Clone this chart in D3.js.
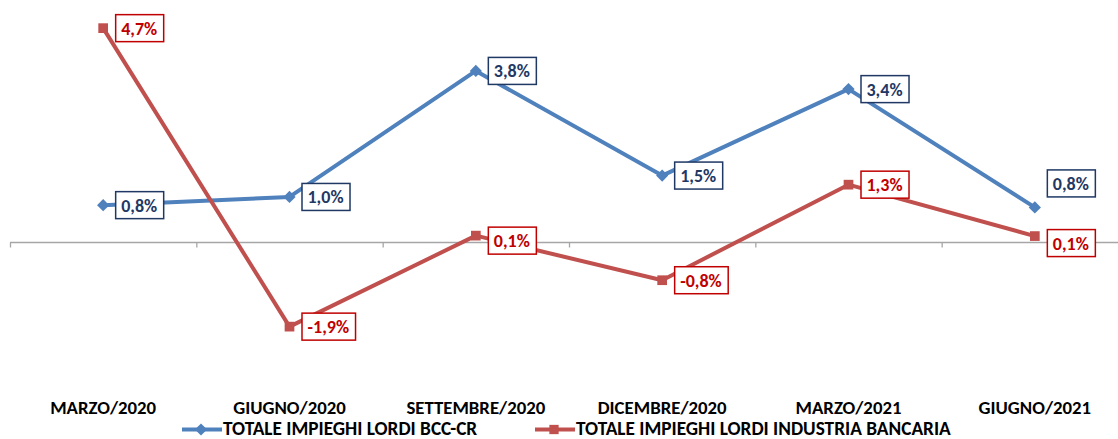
<!DOCTYPE html>
<html lang="it">
<head>
<meta charset="UTF-8" />
<title>Impieghi lordi</title>
<script src="https://cdn.jsdelivr.net/npm/d3@7"></script>
<style>
body{margin:0;background:#fff}
svg{display:block}
text{font-family:Carlito,Lato,"Open Sans",sans-serif;font-weight:700}
</style>
</head>
<body>
<svg id="chart" width="1118" height="439"></svg>
<script>
/* ===== data ===== */
const categories=['MARZO/2020','GIUGNO/2020','SETTEMBRE/2020','DICEMBRE/2020','MARZO/2021','GIUGNO/2021'];
const bccValues=[0.81,0.99,3.76,1.46,3.36,0.76];
const bancarioValues=[4.70,-1.86,0.14,-0.84,1.26,0.13];
const seriesNames=['TOTALE IMPIEGHI LORDI BCC-CR','TOTALE IMPIEGHI LORDI INDUSTRIA BANCARIA'];

/* manual label nudges (px), like in the original sheet */
const bccNudge=[0,0,0,0,0,-24];
const bancarioNudge=[0,0,5,0,0,7];

const it=d3.formatLocale({decimal:',',thousands:'.',grouping:[3],currency:['','€'],minus:'-'});
const pct=v=>it.format('.1f')(v)+'%';

const svg=d3.select('#chart');
const x=d3.scaleBand().domain(categories).range([10,1128]);
const cx=c=>x(c)+x.bandwidth()/2;
const y=d3.scaleLinear().domain([-2.5,5]).range([355.75,14.5]);

/* axis at zero with boundary ticks */
const y0=Math.round(y(0))+0.5;
svg.append('line').attr('x1',10).attr('x2',1118).attr('y1',y0).attr('y2',y0)
  .attr('stroke','#a6a6a6').attr('stroke-width',1.3);
svg.selectAll('.tk').data(categories).join('line').attr('class','tk')
  .attr('x1',d=>x(d)+0.5).attr('x2',d=>x(d)+0.5).attr('y1',y0).attr('y2',y0+5)
  .attr('stroke','#a6a6a6').attr('stroke-width',1.3);

/* category labels (low position) */
svg.selectAll('.cat').data(categories).join('text').attr('class','cat')
  .attr('x',cx).attr('y',413.5).attr('text-anchor','middle')
  .attr('font-size',18.8).attr('fill','#000').text(d=>d);

const series=[
  {vals:bccValues,nudge:bccNudge,line:'#4f81bd',ink:'#1f3864',marker:'diamond'},
  {vals:bancarioValues,nudge:bancarioNudge,line:'#c0504d',ink:'#c00000',marker:'square'}
];
const line=d3.line().x(d=>cx(d.c)).y(d=>y(d.v));

series.forEach(s=>{
  const pts=categories.map((c,i)=>({c,v:s.vals[i],n:s.nudge[i]}));
  svg.append('path').datum(pts).attr('fill','none').attr('stroke',s.line)
    .attr('stroke-width',4).attr('stroke-linejoin','round').attr('d',line);
  const sym=d3.symbol().type(s.marker==='diamond'?d3.symbolDiamond2:d3.symbolSquare2)
    .size(s.marker==='diamond'?95:120);
  svg.selectAll(null).data(pts).join('path')
    .attr('transform',d=>`translate(${cx(d.c)},${y(d.v)})`)
    .attr('d',sym()).attr('fill',s.line).attr('stroke','none');
  /* data labels */
  const g=svg.selectAll(null).data(pts).join('g')
    .attr('transform',d=>`translate(${cx(d.c)+12},${y(d.v)+d.n})`);
  g.append('rect').attr('fill','#fff').attr('stroke',s.ink).attr('stroke-width',1.5);
  const t=g.append('text').attr('x',6).attr('y',6.5).attr('font-size',18)
    .attr('fill',s.ink).text(d=>pct(d.v));
  t.each(function(){
    const w=this.getComputedTextLength();
    d3.select(this.parentNode).select('rect')
      .attr('x',0.5).attr('y',-13.5).attr('width',w+12).attr('height',27);
  });
});

/* legend */
const legend=[
  {name:seriesNames[0],x0:182,color:'#4f81bd',marker:'diamond'},
  {name:seriesNames[1],x0:535,color:'#c0504d',marker:'square'}
];
legend.forEach(l=>{
  const ly=429.5;
  svg.append('line').attr('x1',l.x0).attr('x2',l.x0+40).attr('y1',ly).attr('y2',ly)
    .attr('stroke',l.color).attr('stroke-width',4);
  svg.append('path').attr('transform',`translate(${l.x0+19},${ly})`)
    .attr('d',d3.symbol().type(l.marker==='diamond'?d3.symbolDiamond2:d3.symbolSquare2)
      .size(l.marker==='diamond'?95:110)()).attr('fill',l.color);
  svg.append('text').attr('x',l.x0+41).attr('y',434.5).attr('font-size',19.3)
    .attr('fill','#000').text(l.name);
});
</script>
</body>
</html>
